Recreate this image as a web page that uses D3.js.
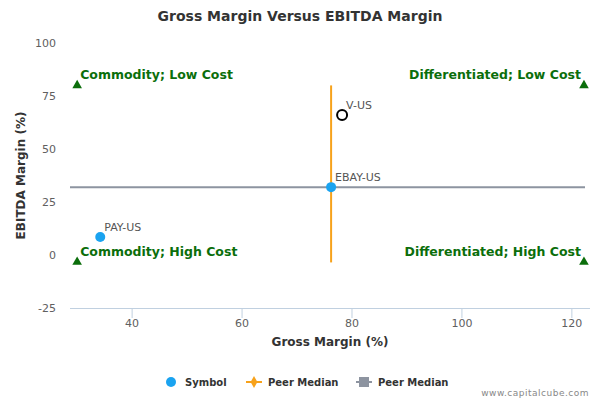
<!DOCTYPE html>
<html><head><meta charset="utf-8">
<script src="https://cdn.jsdelivr.net/npm/d3@7"></script>
<style>body{margin:0;background:#fff;font-family:"DejaVu Sans",sans-serif}</style>
</head><body>
<svg id="c" width="600" height="400"></svg>
<script>
const symbols = ["PAY-US", "EBAY-US", "V-US"];
const grossMargin = [34.2, 76.2, 78.2];
const ebitdaMargin = [8.5, 32, 66];
const symbolFill = ["#1aa3f0", "#1aa3f0", "#ffffff"];
const peerX = 76.2, peerY = 32;
const vLine = [80, -3.5];
const quadrants = [
  { label: "Commodity; Low Cost", x: 30, y: 80, anchor: "start" },
  { label: "Differentiated; Low Cost", x: 122.2, y: 80, anchor: "end" },
  { label: "Commodity; High Cost", x: 30, y: -3.3, anchor: "start" },
  { label: "Differentiated; High Cost", x: 122.2, y: -3.3, anchor: "end" }
];
const xTicks = [40, 60, 80, 100, 120];
const yTicks = [-25, 0, 25, 50, 75, 100];

const svg = d3.select("#c");
const x = d3.scaleLinear().domain([28.7, 123.3]).range([70, 590]);
const y = d3.scaleLinear().domain([-25, 100]).range([308, 43]);

svg.append("text").attr("x", 300).attr("y", 21).attr("text-anchor", "middle")
  .attr("font-size", 14).attr("font-weight", "bold").attr("fill", "#333")
  .text("Gross Margin Versus EBITDA Margin");

// axes
svg.append("line").attr("x1", 70).attr("x2", 590).attr("y1", 308.5).attr("y2", 308.5).attr("stroke", "#c0d0e0");
xTicks.forEach(t => {
  svg.append("line").attr("x1", x(t)).attr("x2", x(t)).attr("y1", 308).attr("y2", 318).attr("stroke", "#c0d0e0");
  svg.append("text").attr("x", x(t)).attr("y", 327).attr("text-anchor", "middle")
    .attr("font-size", 11).attr("fill", "#606060").text(t);
});
yTicks.forEach(t => {
  svg.append("text").attr("x", 56).attr("y", y(t) + 4).attr("text-anchor", "end")
    .attr("font-size", 11).attr("fill", "#606060").text(t);
});
svg.append("text").attr("x", 330).attr("y", 346).attr("text-anchor", "middle")
  .attr("font-size", 12).attr("font-weight", "bold").attr("fill", "#333").text("Gross Margin (%)");
svg.append("text").attr("transform", `translate(25,${y(37.5)}) rotate(-90)`).attr("text-anchor", "middle")
  .attr("font-size", 12).attr("font-weight", "bold").attr("fill", "#333").text("EBITDA Margin (%)");

// peer median lines
svg.append("line").attr("x1", 70).attr("x2", 585).attr("y1", y(peerY)).attr("y2", y(peerY))
  .attr("stroke", "#8d94a0").attr("stroke-width", 2);
svg.append("line").attr("x1", x(peerX)).attr("x2", x(peerX)).attr("y1", y(vLine[0])).attr("y2", y(vLine[1]))
  .attr("stroke", "#f7a21b").attr("stroke-width", 2);

// quadrants
const tri = d3.symbol().type(d3.symbolTriangle).size(40);
quadrants.forEach(q => {
  svg.append("path").attr("d", tri).attr("transform", `translate(${x(q.x)},${y(q.y)})`).attr("fill", "#0b6e0b");
  svg.append("text").attr("x", x(q.x) + (q.anchor === "start" ? 3 : -3)).attr("y", y(q.y) - 6)
    .attr("text-anchor", q.anchor).attr("font-size", 12.5).attr("font-weight", "bold")
    .attr("fill", "#0b6e0b").text(q.label);
});

// points
symbols.forEach((s, i) => {
  const open = symbolFill[i] === "#ffffff";
  svg.append("circle").attr("cx", x(grossMargin[i])).attr("cy", y(ebitdaMargin[i])).attr("r", 5)
    .attr("fill", symbolFill[i]).attr("stroke", open ? "#000" : "none").attr("stroke-width", 2);
  svg.append("text").attr("x", x(grossMargin[i]) + 4).attr("y", y(ebitdaMargin[i]) - 6)
    .attr("font-size", 11).attr("fill", "#555").text(s);
});

// legend
const lg = svg.append("g").attr("font-size", 10).attr("font-weight", "bold").attr("fill", "#333");
lg.append("circle").attr("cx", 171).attr("cy", 382).attr("r", 5).attr("fill", "#1aa3f0");
lg.append("text").attr("x", 185).attr("y", 386).text("Symbol");
lg.append("line").attr("x1", 246).attr("x2", 262).attr("y1", 382).attr("y2", 382).attr("stroke", "#f7a21b").attr("stroke-width", 2);
lg.append("path").attr("d", d3.symbol().type(d3.symbolDiamond).size(40)).attr("transform", "translate(254,382)").attr("fill", "#f7a21b");
lg.append("text").attr("x", 268).attr("y", 386).text("Peer Median");
lg.append("line").attr("x1", 356).attr("x2", 372).attr("y1", 382).attr("y2", 382).attr("stroke", "#8d94a0").attr("stroke-width", 2);
lg.append("rect").attr("x", 359).attr("y", 377).attr("width", 10).attr("height", 10).attr("fill", "#8d94a0");
lg.append("text").attr("x", 378).attr("y", 386).text("Peer Median");
svg.append("text").attr("x", 589).attr("y", 396).attr("text-anchor", "end").attr("font-size", 9)
  .attr("fill", "#888").attr("letter-spacing", 0.5).text("www.capitalcube.com");
</script>
</body></html>
